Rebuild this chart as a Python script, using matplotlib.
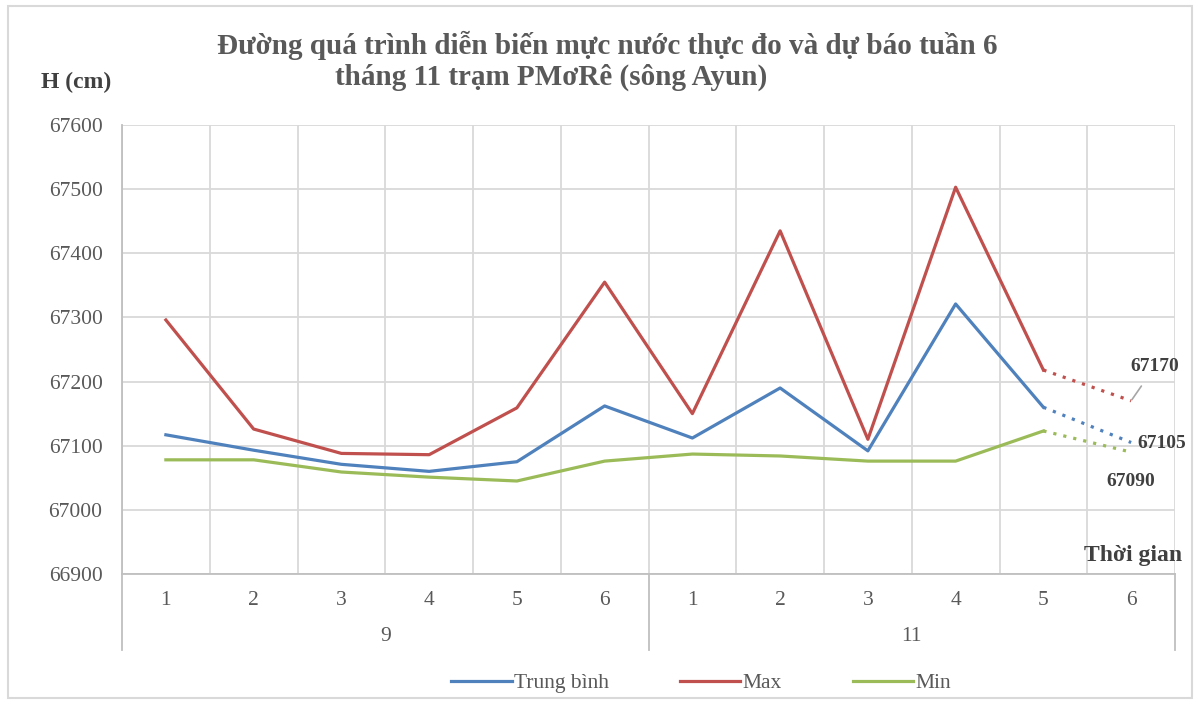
import matplotlib
matplotlib.use('Agg')
import matplotlib.pyplot as plt
import matplotlib.transforms as mtransforms
from matplotlib.patches import Rectangle

plt.rcParams['font.family'] = ['Liberation Serif', 'DejaVu Serif']

weeks = ['1', '2', '3', '4', '5', '6', '1', '2', '3', '4', '5', '6']
months = ['9', '11']
trung_binh = [67117, 67093, 67071, 67060, 67075, 67162, 67112, 67190, 67092, 67321, 67160]
max_vals = [67296, 67126, 67088, 67086, 67159, 67355, 67150, 67435, 67110, 67503, 67218]
min_vals = [67078, 67078, 67059, 67051, 67045, 67076, 67087, 67084, 67076, 67076, 67123]
# du bao tuan 6 thang 11
fc_trung_binh = 67105
fc_max = 67170
fc_min = 67090

blue = '#4F81BD'
red = '#C0504D'
green = '#9BBB59'
grid_c = '#D9D9D9'

W, H = 1198, 702
fig = plt.figure(figsize=(W / 100, H / 100), dpi=100)
ax = fig.add_axes([122 / W, 1 - 574 / H, (1175 - 122) / W, (574 - 125) / H])

x = list(range(len(trung_binh)))
ax.plot(x, trung_binh, color=blue, lw=2.3, label='Trung bình')
ax.plot(x, max_vals, color=red, lw=2.3, label='Max')
ax.plot(x, min_vals, color=green, lw=2.3, label='Min')

n = len(trung_binh)
ax.plot([n - 1, n], [trung_binh[-1], fc_trung_binh], color=blue, lw=2.3, ls=(0, (1, 2.2)))
ax.plot([n - 1, n], [max_vals[-1], fc_max], color=red, lw=2.3, ls=(0, (1, 2.2)))
ax.plot([n - 1, n], [min_vals[-1], fc_min], color=green, lw=2.3, ls=(0, (1, 2.2)))

ax.set_xlim(-0.5, len(weeks) - 0.5)
ax.set_ylim(66900, 67600)
ax.set_yticks(range(66900, 67601, 100))
ax.set_xticks([i - 0.5 for i in range(len(weeks) + 1)])
ax.set_xticklabels([])
ax.tick_params(axis='both', length=0)
ax.tick_params(axis='y', labelsize=15.5, colors='#595959', pad=14)
ax.grid(True, color=grid_c, lw=1.3)
ax.set_axisbelow(True)
for s in ['top', 'right']:
    ax.spines[s].set_visible(False)
ax.spines['left'].set_color('#BFBFBF')
ax.spines['bottom'].set_color('#BFBFBF')
ax.spines['left'].set_linewidth(1.3)
ax.spines['bottom'].set_linewidth(1.3)

# nhan truc x hai tang
trans = mtransforms.blended_transform_factory(ax.transData, ax.transAxes)
for i, w in enumerate(weeks):
    ax.text(i, -0.058, w, transform=trans, ha='center', va='center', fontsize=15.5, color='#595959')
for j, m in enumerate(months):
    ax.text(j * 6 + 2.5, -0.14, m, transform=trans, ha='center', va='center', fontsize=15.5, color='#595959')
for xs in [-0.5, 5.5, 11.5]:
    ax.plot([xs, xs], [0, -0.169], transform=trans, color='#BFBFBF', lw=1.3, clip_on=False)

# nhan du bao
ax.annotate(str(fc_max), xy=(n, fc_max), xytext=(17, 24.5), textcoords='offset points',
            ha='center', va='center', fontsize=14, fontweight='bold', color='#404040',
            arrowprops=dict(arrowstyle='-', color='#A6A6A6', lw=1.2, shrinkA=7, shrinkB=1))
ax.annotate(str(fc_trung_binh), xy=(n, fc_trung_binh), xytext=(22, -0.5), textcoords='offset points',
            ha='center', va='center', fontsize=14, fontweight='bold', color='#404040')
ax.annotate(str(fc_min), xy=(n, fc_min), xytext=(0, -21.5), textcoords='offset points',
            ha='center', va='center', fontsize=14, fontweight='bold', color='#404040')

fig.text(607 / W, 1 - 45 / H, 'Đường quá trình diễn biến mực nước thực đo và dự báo tuần 6',
         ha='center', va='center', fontsize=21, fontweight='bold', color='#595959')
fig.text(551 / W, 1 - 77 / H, 'tháng 11 trạm PMơRê (sông Ayun)',
         ha='center', va='center', fontsize=21, fontweight='bold', color='#595959')
fig.text(76 / W, 1 - 82 / H, 'H (cm)', ha='center', va='center', fontsize=17,
         fontweight='bold', color='#404040')
fig.text(1133 / W, 1 - 555 / H, 'Thời gian', ha='center', va='center', fontsize=17,
         fontweight='bold', color='#404040')

leg = fig.legend(loc='center', bbox_to_anchor=(701 / W, 1 - 683 / H), ncol=3, frameon=False,
                 fontsize=15.5, handlelength=2.8, columnspacing=3.3, handletextpad=0.1)
for t in leg.get_texts():
    t.set_color('#595959')

fig.patches.append(Rectangle((8 / W, 4 / H), (W - 14) / W, (H - 10) / H, transform=fig.transFigure,
                             fill=False, edgecolor='#D9D9D9', lw=1.5))

fig.savefig('out.png', dpi=100)
